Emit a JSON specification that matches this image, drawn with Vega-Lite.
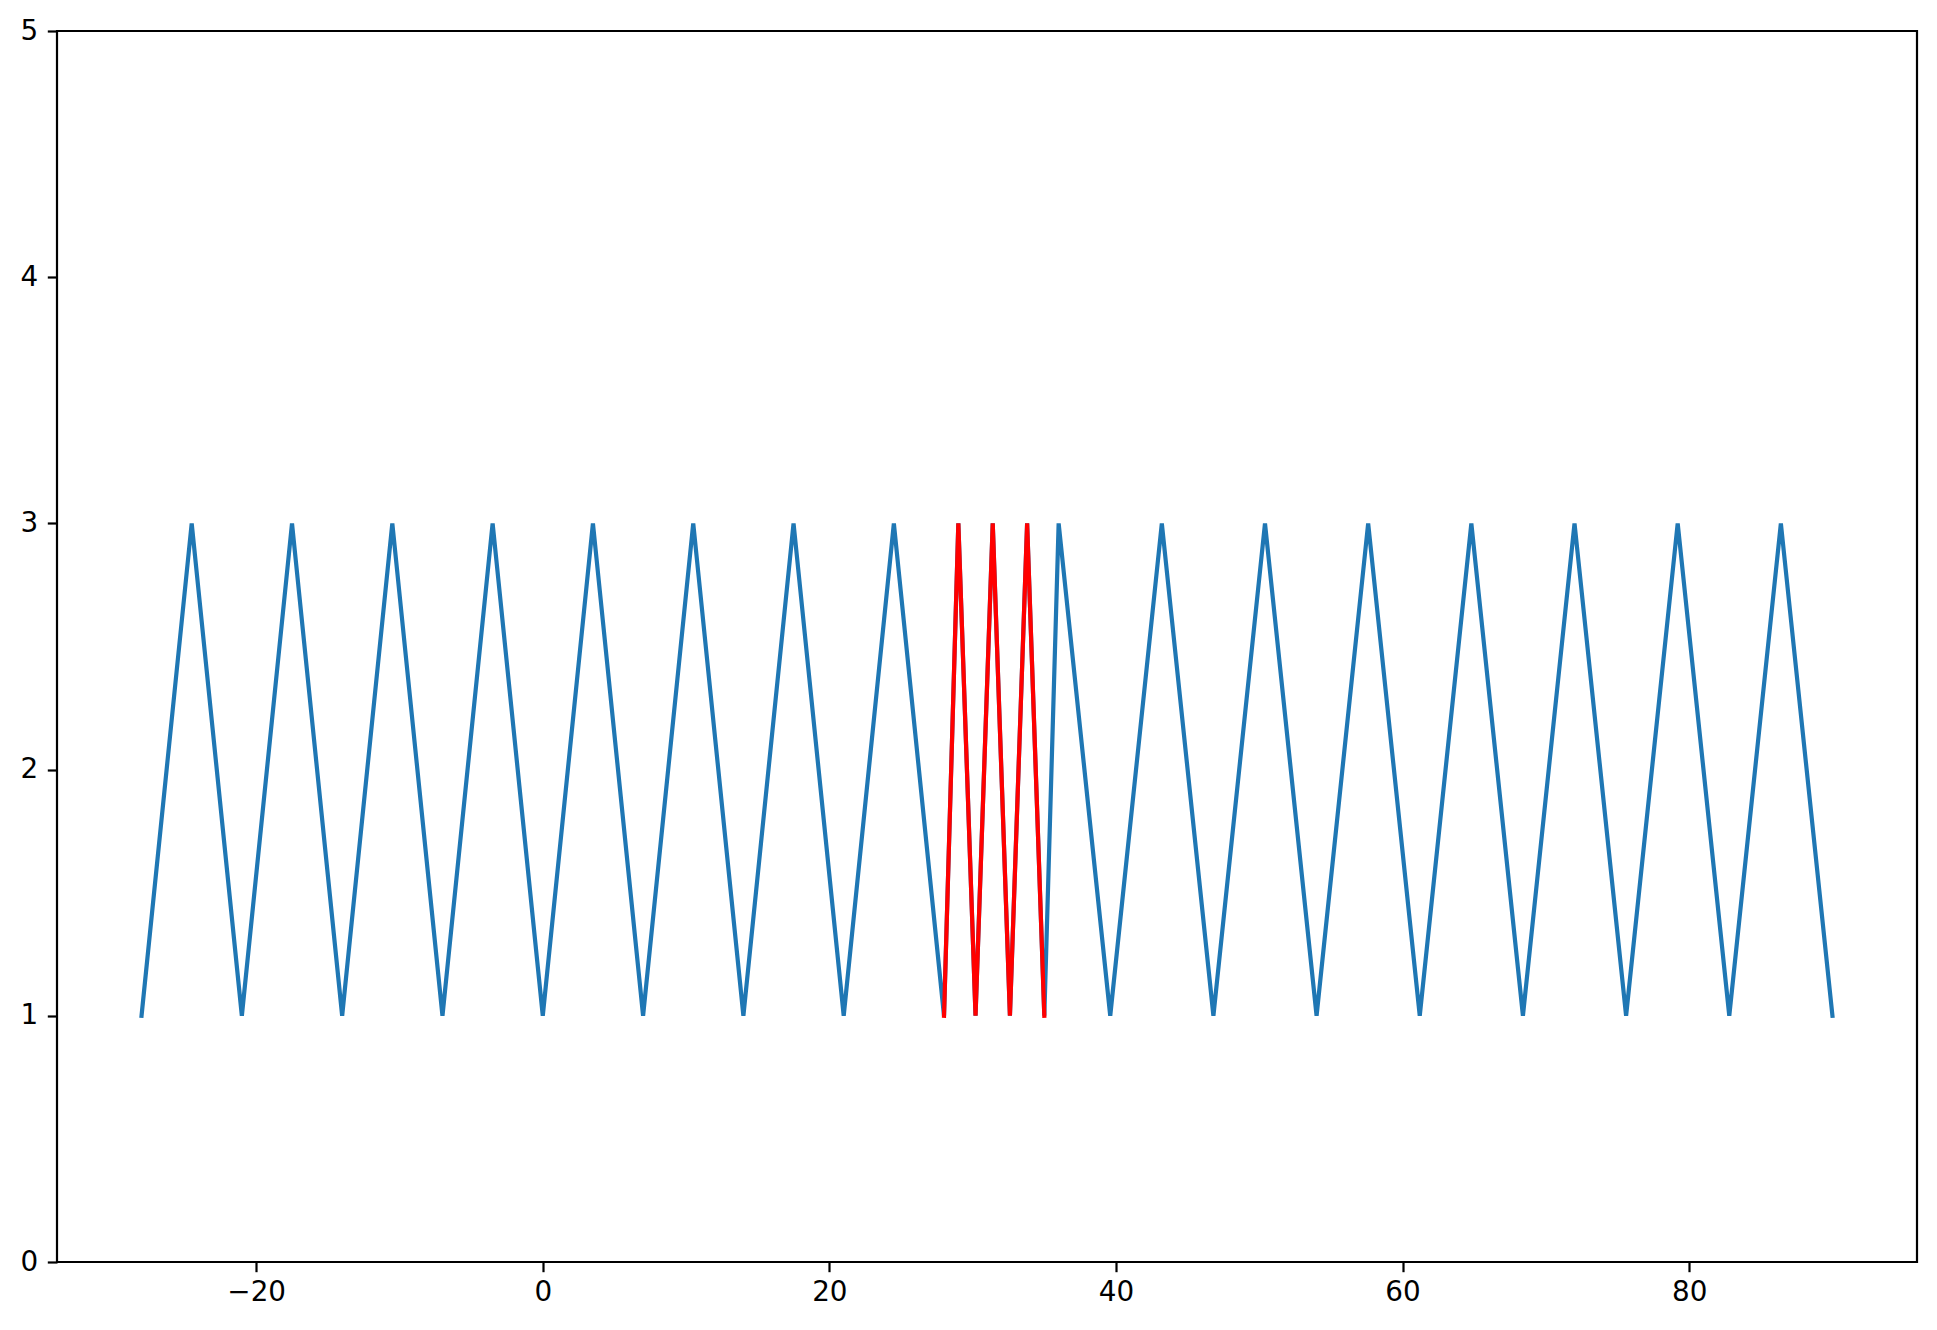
{
  "$schema": "https://vega.github.io/schema/vega-lite/v6.json",
  "width": 1860,
  "height": 1231,
  "autosize": {"type": "none"},
  "padding": {"left": 57, "top": 31, "right": 20, "bottom": 68},
  "background": "white",
  "datasets": {
    "blue": [
      {"x": -28, "y": 1}, {"x": -24.5, "y": 3}, {"x": -21, "y": 1}, {"x": -17.5, "y": 3},
      {"x": -14, "y": 1}, {"x": -10.5, "y": 3}, {"x": -7, "y": 1}, {"x": -3.5, "y": 3},
      {"x": 0, "y": 1}, {"x": 3.5, "y": 3}, {"x": 7, "y": 1}, {"x": 10.5, "y": 3},
      {"x": 14, "y": 1}, {"x": 17.5, "y": 3}, {"x": 21, "y": 1}, {"x": 24.5, "y": 3},
      {"x": 28, "y": 1}, {"x": 29, "y": 3}, {"x": 30.2, "y": 1}, {"x": 31.4, "y": 3},
      {"x": 32.6, "y": 1}, {"x": 33.8, "y": 3}, {"x": 35, "y": 1}, {"x": 36, "y": 3},
      {"x": 39.6, "y": 1}, {"x": 43.2, "y": 3}, {"x": 46.8, "y": 1}, {"x": 50.4, "y": 3},
      {"x": 54, "y": 1}, {"x": 57.6, "y": 3}, {"x": 61.2, "y": 1}, {"x": 64.8, "y": 3},
      {"x": 68.4, "y": 1}, {"x": 72, "y": 3}, {"x": 75.6, "y": 1}, {"x": 79.2, "y": 3},
      {"x": 82.8, "y": 1}, {"x": 86.4, "y": 3}, {"x": 90, "y": 1}
    ],
    "red": [
      {"x": 28, "y": 1}, {"x": 29, "y": 3}, {"x": 30.2, "y": 1}, {"x": 31.4, "y": 3},
      {"x": 32.6, "y": 1}, {"x": 33.8, "y": 3}, {"x": 35, "y": 1}
    ]
  },
  "config": {
    "view": {"stroke": "black", "strokeWidth": 2.2},
    "axis": {
      "grid": false,
      "domain": false,
      "tickColor": "black",
      "tickWidth": 2.2,
      "tickSize": 9.7,
      "labelFont": "DejaVu Sans",
      "labelFontSize": 27.8,
      "labelColor": "black",
      "title": null
    },
    "axisX": {"labelPadding": 7},
    "axisY": {"labelPadding": 9.7}
  },
  "encoding": {
    "x": {
      "field": "x",
      "type": "quantitative",
      "scale": {"domain": [-33.9, 95.9], "nice": false, "zero": false},
      "axis": {"values": [-20, 0, 20, 40, 60, 80], "labelFlush": false}
    },
    "y": {
      "field": "y",
      "type": "quantitative",
      "scale": {"domain": [0, 5], "nice": false},
      "axis": {"values": [0, 1, 2, 3, 4, 5], "labelFlush": false}
    }
  },
  "layer": [
    {"data": {"name": "blue"}, "mark": {"type": "line", "color": "#1f77b4", "strokeWidth": 4.2, "strokeJoin": "miter", "strokeCap": "square"}},
    {"data": {"name": "red"}, "mark": {"type": "line", "color": "#ff0000", "strokeWidth": 4.2, "strokeJoin": "miter", "strokeCap": "square"}}
  ]
}
